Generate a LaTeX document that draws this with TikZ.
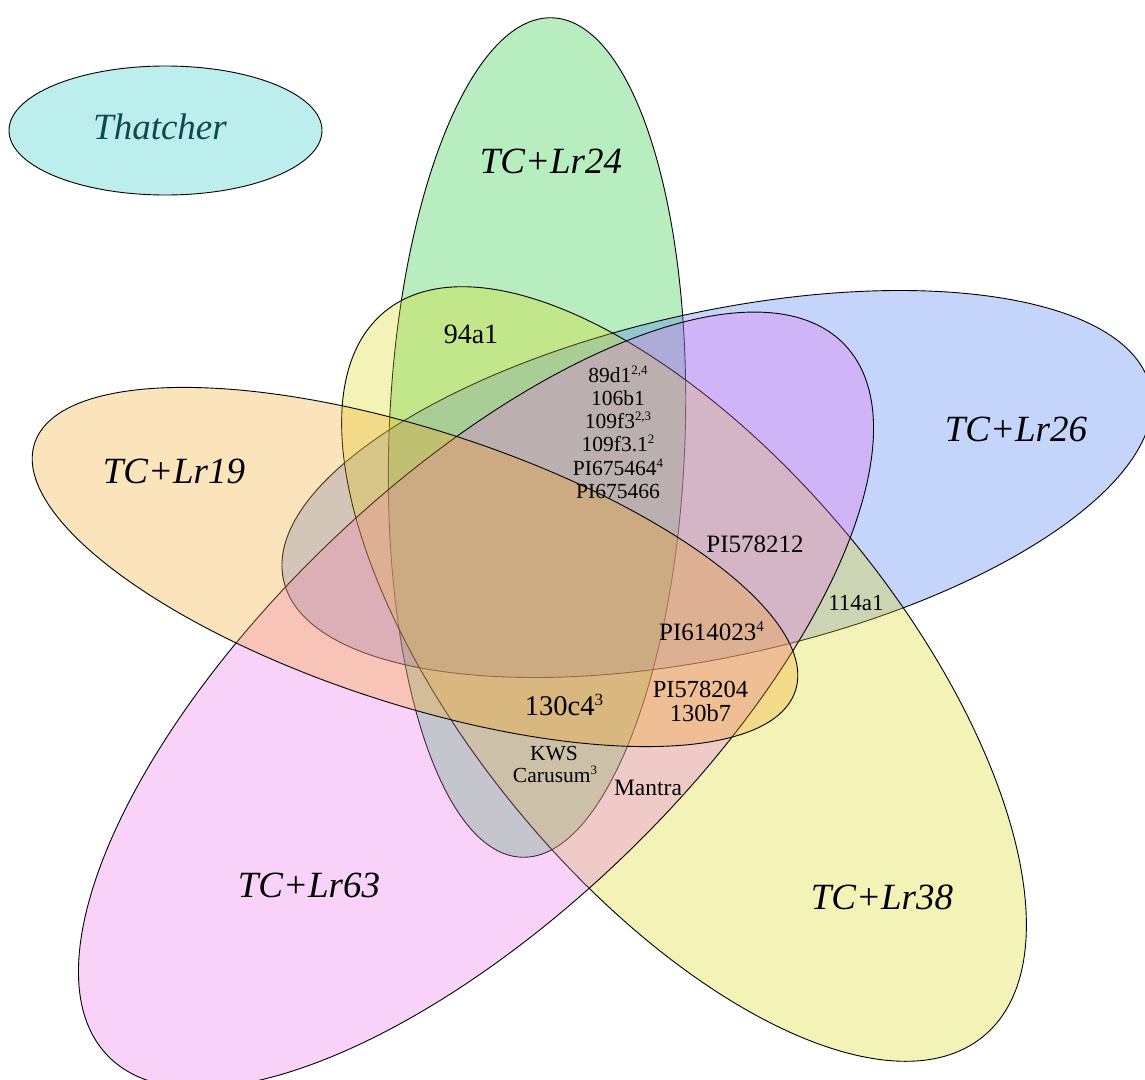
\documentclass[tikz,border=0pt]{standalone}
\usepackage{fontspec}
\setmainfont{Liberation Serif}
\usepackage{graphicx}
\definecolor{cGreen}{RGB}{18,198,45}
\definecolor{cBlue}{RGB}{65,115,245}
\definecolor{cOrange}{RGB}{245,165,32}
\definecolor{cMagenta}{RGB}{232,108,238}
\definecolor{cYellow}{RGB}{218,218,18}
\definecolor{cCyan}{RGB}{38,202,202}
\definecolor{cTeal}{RGB}{12,75,75}
\newcommand\supx[1]{\raisebox{0.33em}{\scalebox{0.6}{#1}}}
\begin{document}
\begin{tikzpicture}[x=1pt,y=-1pt,
  setshape/.style={draw=black, line width=0.9pt, fill opacity=0.3},
  biglabel/.style={font=\fontsize{37}{40}\selectfont\itshape, inner sep=0pt, anchor=center},
  smalltext/.style={inner sep=0pt, anchor=base}]
\useasboundingbox (0,0) rectangle (1145,1079);
\clip (0,0) rectangle (1145,1079);
\fill[white] (0,0) rectangle (1145,1079);

% sets
\path[setshape, fill=cCyan] (165.5,130.5) ellipse [x radius=156.5, y radius=64.5];
\path[setshape, fill=cGreen, rotate around={-2.1:(537,437.5)}] (537,437.5) ellipse [x radius=148, y radius=420];
\path[setshape, fill=cBlue, rotate around={12.5:(717,484)}] (717,484) ellipse [x radius=444, y radius=172];
\path[setshape, fill=cYellow, rotate around={-50.4:(684,674)}] (684,674) ellipse [x radius=470, y radius=215];
\path[setshape, fill=cMagenta, rotate around={44:(476,700)}] (476,700) ellipse [x radius=512, y radius=215];
\path[setshape, fill=cOrange, rotate around={-18:(415,567)}] (415,567) ellipse [x radius=400, y radius=137];

% set labels
\node[biglabel, text=cTeal] (thatcher) at (160,127) {Thatcher};
\node[biglabel] (lr24) at (551,161) {TC+Lr24};
\node[biglabel] (lr19) at (174,471) {TC+Lr19};
\node[biglabel] (lr26) at (1016,429) {TC+Lr26};
\node[biglabel] (lr63) at (309,885) {TC+Lr63};
\node[biglabel] (lr38) at (882,897) {TC+Lr38};

% region labels
\node[smalltext, font=\fontsize{28}{30}\selectfont] (g94) at (471,343) {94a1};
\begin{scope}[every node/.append style={smalltext, font=\fontsize{21.5}{23}\selectfont}]
\node (s1) at (618,382) {89d1\supx{2,4}};
\node (s2) at (618,405) {106b1};
\node (s3) at (618,428) {109f3\supx{2,3}};
\node (s4) at (618,451) {109f3.1\supx{2}};
\node (s5) at (618,475) {PI675464\supx{4}};
\node (s6) at (618,498) {PI675466};
\end{scope}
\node[smalltext, font=\fontsize{25}{27}\selectfont] (p212) at (755,552) {PI578212};
\node[smalltext, font=\fontsize{23}{25}\selectfont] (g114) at (856,610) {114a1};
\node[smalltext, font=\fontsize{25}{27}\selectfont] (p023) at (711.5,640) {PI614023\supx{4}};
\node[smalltext, font=\fontsize{24.5}{26}\selectfont] (p204) at (700.5,697) {PI578204};
\node[smalltext, font=\fontsize{24.5}{26}\selectfont] (g130b) at (700.5,721) {130b7};
\node[smalltext, font=\fontsize{28.5}{30}\selectfont] (g130c) at (564,715) {130c4\supx{3}};
\node[smalltext, font=\fontsize{21.5}{23}\selectfont] (kws) at (554,760) {KWS};
\node[smalltext, font=\fontsize{21.5}{23}\selectfont] (carusum) at (555,782) {Carusum\supx{3}};
\node[smalltext, font=\fontsize{23.5}{25}\selectfont] (mantra) at (648,795) {Mantra};
\end{tikzpicture}
\end{document}
